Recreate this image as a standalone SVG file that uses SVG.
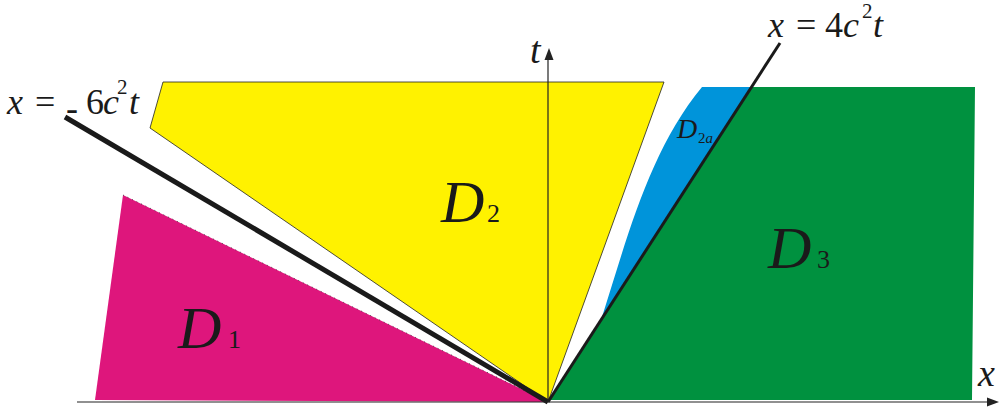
<svg xmlns="http://www.w3.org/2000/svg" width="1005" height="410" viewBox="0 0 1005 410">
  <style>
    text, tspan { font-family: 'Liberation Serif', 'Times New Roman', serif; }
    .lbl { font-style: italic; fill: #1a1a1a; }
    .sub { font-style: normal; fill: #1a1a1a; }
    .axis { stroke: #222; stroke-width: 1.2; fill: none; }
    .edge { stroke: #222; stroke-width: 0.8; }
  </style>
  <rect width="1005" height="410" fill="#ffffff"/>

  <g id="D1">
    <polygon points="123,195 95,400 548,402" fill="#DE167C"/>
    <line x1="123" y1="195" x2="548" y2="402" stroke="#333" stroke-width="0.8" stroke-dasharray="1 4"/>
    <text class="lbl" x="178" y="348" font-size="60">D</text>
    <text class="sub" x="228" y="348" font-size="26">1</text>
  </g>

  <g id="D2">
    <polygon class="edge" points="163,82 664,82 548,402 150,128" fill="#FFF200"/>
    <text class="lbl" x="441" y="222" font-size="60">D</text>
    <text class="sub" x="487" y="222" font-size="26">2</text>
  </g>

  <g id="D2a">
    <path d="M602,317 C628,235 650,150 702,87 L751,87 Z" fill="#0094DA"/>
    <text class="lbl" x="677" y="138" font-size="28">D</text>
    <text class="sub" x="698" y="143" font-size="15">2<tspan class="lbl">a</tspan></text>
  </g>

  <g id="D3">
    <polygon points="548,402 751,87 975,87 972,400 550,400" fill="#00913F"/>
    <text class="lbl" x="768" y="268" font-size="60">D</text>
    <text class="sub" x="817" y="268" font-size="26">3</text>
  </g>

  <g id="connectors">
    <line x1="65" y1="117" x2="548" y2="402" stroke="#1a1a1a" stroke-width="5"/>
    <line x1="780" y1="43" x2="548" y2="402" stroke="#1a1a1a" stroke-width="3"/>
    <line class="axis" x1="77" y1="402" x2="990" y2="402"/>
    <polygon points="999,402 987,397.5 987,406.5" fill="#222"/>
    <line class="axis" x1="548" y1="402" x2="548" y2="58"/>
    <polygon points="549,48 544.5,60 553.5,60" fill="#222"/>
  </g>

  <g id="labels">
    <text class="lbl" x="978" y="386" font-size="38">x</text>
    <text class="lbl" x="530" y="63" font-size="38">t</text>
    <text class="lbl" font-size="36" y="114"><tspan x="7">x</tspan><tspan class="sub" x="35">=</tspan><tspan class="sub" x="66" dy="6">-</tspan><tspan class="sub" x="86" dy="-6">6</tspan><tspan x="103">c</tspan><tspan class="sub" x="117" y="94" font-size="21">2</tspan><tspan x="129" y="114">t</tspan></text>
    <text class="lbl" font-size="36" y="37"><tspan x="768">x</tspan><tspan class="sub" x="796">=</tspan><tspan class="sub" x="825">4</tspan><tspan x="843">c</tspan><tspan class="sub" x="862" y="18" font-size="21">2</tspan><tspan x="873" y="37">t</tspan></text>
  </g>
</svg>
